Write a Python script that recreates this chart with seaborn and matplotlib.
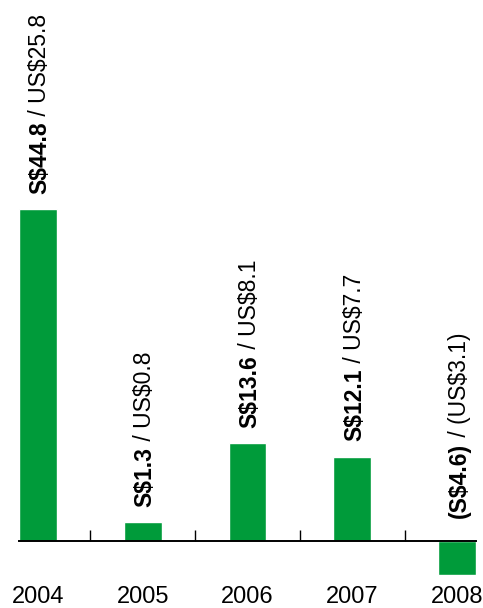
import seaborn as sns
import matplotlib.pyplot as plt
import pandas as pd

# values shown on the chart (S$ and US$ millions)
years = ['2004', '2005', '2006', '2007', '2008']
sgd = [44.8, 1.3, 13.6, 12.1, -4.6]
usd = [25.8, 0.8, 8.1, 7.7, -3.1]
# bar heights as drawn in the picture (the small 2005 bar is drawn taller than scale)
bar_heights = [44.8, 2.6, 13.2, 11.4, -4.6]

green = '#009B3A'

df = pd.DataFrame({'year': years, 'value': bar_heights})

sns.set_style('white')
plt.rcParams['font.family'] = ['Liberation Sans', 'DejaVu Sans']

fig = plt.figure(figsize=(4.83, 6.08), dpi=100)
ax = fig.add_axes([19 / 483, 28 / 608, 457 / 483, 580 / 608])

sns.barplot(data=df, x='year', y='value', color=green, width=0.36,
            saturation=1, ax=ax)

px = 7.43  # pixels per unit
ax.set_xlim(-0.18, 4.18)
ax.set_ylim(-39 / px, 543 / px)

for s in ['top', 'right', 'left']:
    ax.spines[s].set_visible(False)
ax.spines['bottom'].set_position(('data', 0))
ax.spines['bottom'].set_color('black')
ax.spines['bottom'].set_linewidth(1.4)

ax.set_yticks([])
ax.set_xticks([0.5, 1.5, 2.5, 3.5], minor=True)
ax.tick_params(axis='x', which='minor', direction='in', length=8, width=1.0,
               color='black', bottom=True)
ax.tick_params(axis='x', which='major', length=0, pad=32, labelsize=17,
               labelcolor='black')
ax.set_xlabel('')
ax.set_ylabel('')

def fmt(v, prefix):
    if v < 0:
        return f'({prefix}{abs(v):.1f})'
    return f'{prefix}{v:.1f}'

for i, (h, s, u) in enumerate(zip(bar_heights, sgd, usd)):
    base = max(h, 0)
    off = 11 if h > 0 else 16.5
    t1 = ax.annotate(fmt(s, 'S$'), xy=(i, base), xytext=(1.5, off),
                     textcoords='offset points', rotation=90,
                     ha='center', va='bottom', fontsize=16.5,
                     fontweight='bold', color='black')
    ax.annotate(' / ' + fmt(u, 'US$'), xy=(0.5, 1), xycoords=t1,
                rotation=90, ha='center', va='bottom', fontsize=16.5,
                color='black')

fig.savefig('out.png', dpi=100)
